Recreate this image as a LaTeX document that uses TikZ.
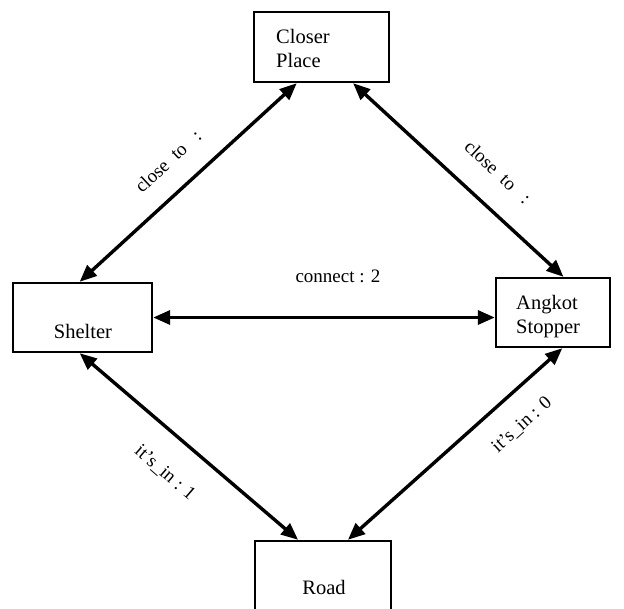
\documentclass[tikz,border=0pt]{standalone}
\usepackage{fontspec}
\setmainfont{Liberation Serif}
\usetikzlibrary{arrows.meta,calc}
\begin{document}
\begin{tikzpicture}[x=1pt,y=-1pt,
  box/.style={draw,line width=2.4pt,inner sep=0pt},
  conn/.style={line width=3.4pt,{Triangle[length=17pt,width=14pt]}-{Triangle[length=17pt,width=14pt]}},
  ntext/.style={inner sep=0pt,font=\fontsize{20.5}{24}\selectfont},
  ltext/.style={inner sep=0pt,font=\fontsize{19}{22}\selectfont}]
\useasboundingbox (0,0) rectangle (624,608);
\clip (0,0) rectangle (624,608);
% boxes
\node[box,minimum width=135pt,minimum height=70pt] (closer) at (321.5,47) {};
\node[box,minimum width=139pt,minimum height=69pt] (shelter) at (82.5,317.5) {};
\node[box,minimum width=114pt,minimum height=69pt] (angkot) at (553,312.5) {};
\node[box,minimum width=136pt,minimum height=78pt] (road) at (323,580) {};
% box texts
\node[ntext,anchor=base west] (t1) at (276,43) {Closer};
\node[ntext,anchor=base west] (t2) at (276,67) {Place};
\node[ntext,anchor=base] (t3) at (83,338) {Shelter};
\node[ntext,anchor=base west] (t4) at (516,309) {Angkot};
\node[ntext,anchor=base west] (t5) at (516,333) {Stopper};
\node[ntext,anchor=base] (t6) at (324,594) {Road};
% connectors
\draw[conn] ($(closer.south west)!0.32!(closer.south east)$) -- ($(shelter.north west)!0.48!(shelter.north east)$);
\draw[conn] ($(closer.south west)!0.73!(closer.south east)$) -- ($(angkot.north west)!0.59!(angkot.north east)$);
\draw[conn] (shelter.east) -- (shelter.east -| angkot.west);
\draw[conn] ($(shelter.south west)!0.48!(shelter.south east)$) -- ($(road.north west)!0.32!(road.north east)$);
\draw[conn] ($(angkot.south west)!0.58!(angkot.south east)$) -- ($(road.north west)!0.68!(road.north east)$);
% labels
\node[ltext,rotate=43] (l1) at (168,161) {close~~to~~~:};
\node[ltext,rotate=-43] (l2) at (498,172) {close~~to~~~:};
\node[ltext] (l3) at (338,276) {connect : 2};
\node[ltext,rotate=-41] (l4) at (165,473) {it's\_in : 1};
\node[ltext,rotate=42] (l5) at (522,425) {it's\_in : 0};
\end{tikzpicture}
\end{document}
